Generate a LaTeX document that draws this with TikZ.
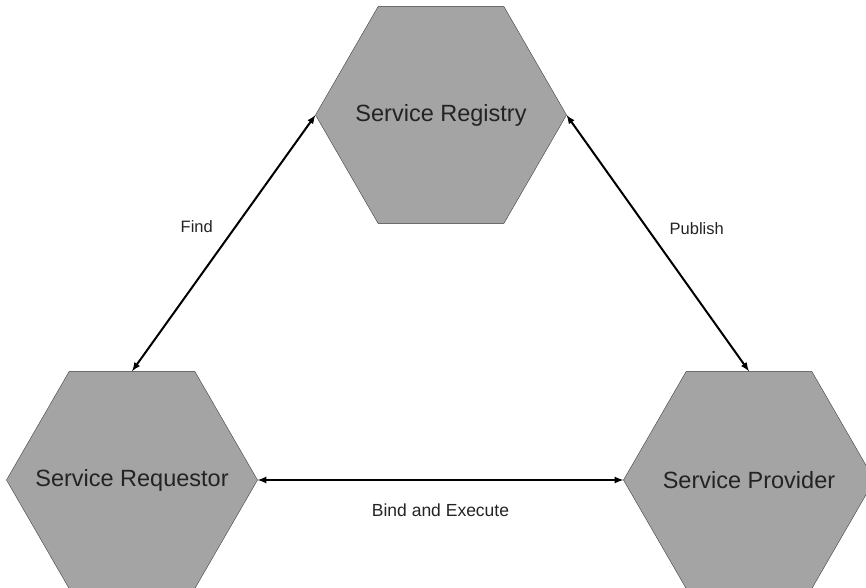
\documentclass[tikz,border=0pt]{standalone}
\usepackage{fontspec}
\setmainfont{Liberation Sans}
\usetikzlibrary{shapes.geometric}
\definecolor{hexgray}{RGB}{164,164,164}
\definecolor{inkgray}{RGB}{35,35,35}

\begin{document}
\begin{tikzpicture}[x=1pt, y=1pt, >=latex,
    hexnode/.style={regular polygon, regular polygon sides=6, minimum size=251pt,
        inner sep=0pt, outer sep=0pt, draw=black!75, fill=hexgray,
        label={[text=inkgray, font=\fontsize{23.5}{28}\selectfont]center:#1}},
    link/.style={<->, line width=2pt},
    tag/.style={text=inkgray, font=\fontsize{16.5}{20}\selectfont}]
    \useasboundingbox (0,0) rectangle (866,587);
    \clip (0,0) rectangle (866,587);

    % 1. The three roles
    \node[hexnode={Service Registry}]  (registry)  at (441,472) {};
    \node[hexnode={Service Requestor}] (requestor) at (132,107) {};
    \node[hexnode={Service Provider}]  (provider)  at (749,107) {};

    % 2. Interactions between them
    \draw[link] (registry.west) -- (requestor.north)
        node[tag, midway, xshift=-27pt, yshift=17pt] (find) {Find};
    \draw[link] (registry.east) -- (provider.north)
        node[tag, midway, xshift=39pt, yshift=15pt] (publish) {Publish};
    \draw[link] (requestor.east) -- (provider.west)
        node[tag, midway, yshift=-30pt, font=\fontsize{17.5}{21}\selectfont] (bind) {Bind and Execute};
\end{tikzpicture}
\end{document}
